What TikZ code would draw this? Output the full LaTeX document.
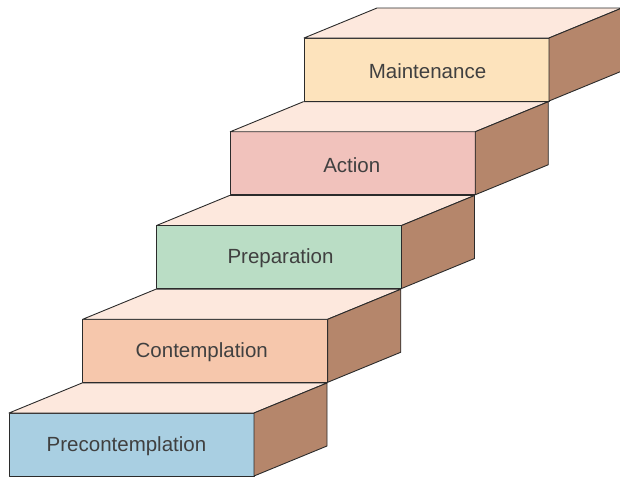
\documentclass[tikz,border=0pt]{standalone}
\usepackage{fontspec}
\setmainfont{Liberation Sans}
\definecolor{topc}{HTML}{FDE8DD}
\definecolor{sidec}{HTML}{B5866B}
\definecolor{edge}{HTML}{2B2B2B}
\definecolor{txt}{HTML}{404040}
\definecolor{cA}{HTML}{A9CFE2}
\definecolor{cB}{HTML}{F6C7AC}
\definecolor{cC}{HTML}{BADDC5}
\definecolor{cD}{HTML}{F1C2BC}
\definecolor{cE}{HTML}{FDE3BC}
\begin{document}
\begin{tikzpicture}[x=1pt,y=-1pt,
  face/.style={draw=edge, line width=0.9pt, line join=round},
  front/.style={face, rectangle, minimum width=245pt, minimum height=63pt,
    inner sep=0pt, outer sep=0pt, anchor=north west},
  lbl/.style={font=\fontsize{20.5}{24}\selectfont, text=txt, inner sep=0pt}]
\clip (0,0) rectangle (620,477);
\foreach \i/\lab/\col/\dx in {0/Precontemplation/cA/-5, 1/Contemplation/cB/-3.5, 2/Preparation/cC/1.5, 3/Action/cD/-1, 4/Maintenance/cE/1} {
  \pgfmathsetmacro\xx{9+73.75*\i}
  \pgfmathsetmacro\yy{413-93.75*\i}
  \node[front, fill=\col] (s\i) at (\xx,\yy) {};
  \node[lbl] (t\i) at ([xshift=\dx pt,yshift=-1.5pt]s\i.center) {\lab};
  \draw[face, fill=topc] (s\i.north west) -- ++(73,-30) -- ++(245,0) -- (s\i.north east) -- cycle;
  \draw[face, fill=sidec] (s\i.north east) -- ++(73,-30) -- ++(0,63) -- (s\i.south east) -- cycle;
}
\end{tikzpicture}
\end{document}
